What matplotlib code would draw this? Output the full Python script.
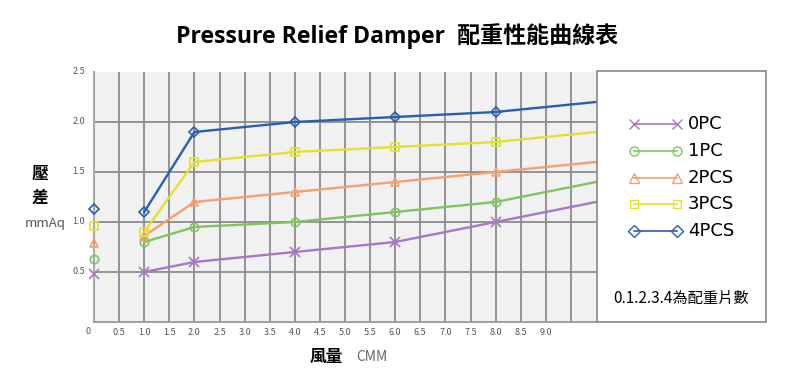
import matplotlib
matplotlib.use("Agg")
import matplotlib.pyplot as plt
from matplotlib.patches import Rectangle
from matplotlib.lines import Line2D

plt.rcParams['font.family'] = ['Noto Sans CJK TC', 'DejaVu Sans']

# Data
x_flow = [1.0, 2.0, 4.0, 6.0, 8.0, 10.0]
series_names = ["0PC", "1PC", "2PCS", "3PCS", "4PCS"]
p_0pc = [0.50, 0.60, 0.70, 0.80, 1.00, 1.20]
p_1pc = [0.80, 0.95, 1.00, 1.10, 1.20, 1.40]
p_2pcs = [0.86, 1.20, 1.30, 1.40, 1.50, 1.60]
p_3pcs = [0.90, 1.60, 1.70, 1.75, 1.80, 1.90]
p_4pcs = [1.10, 1.90, 2.00, 2.05, 2.10, 2.20]
zero_marks = [0.48, 0.63, 0.79, 0.96, 1.13]
x_ticks = [0.5, 1.0, 1.5, 2.0, 2.5, 3.0, 3.5, 4.0, 4.5, 5.0, 5.5, 6.0, 6.5, 7.0, 7.5, 8.0, 8.5, 9.0]
y_ticks = [0.5, 1.0, 1.5, 2.0, 2.5]

colors = ["#a878c0", "#80c460", "#f4a070", "#e4e030", "#2a5eb0"]
markers = ["x", "o", "^", "s", "D"]
msizes = [7, 6, 6, 5.5, 5.5]
all_series = [p_0pc, p_1pc, p_2pcs, p_3pcs, p_4pcs]

W, H = 794, 383
fig = plt.figure(figsize=(W / 100, H / 100), dpi=100)
L, R, T, B = 94, 596, 72, 322
ax = fig.add_axes([L / W, 1 - B / H, (R - L) / W, (B - T) / H])
ax.set_facecolor("#f0f1f0")
ax.set_xlim(0, 10)
ax.set_ylim(0, 2.5)

# grid
gx = [i * 0.5 for i in range(1, 20)]
for v in gx:
    ax.axvline(v, color="#8c8c8c", lw=1.3, zorder=1)
for v in [0.5, 1.0, 1.5, 2.0]:
    ax.axhline(v, color="#8c8c8c", lw=1.3, zorder=1)
for s in ["top", "right"]:
    ax.spines[s].set_visible(False)
ax.spines["left"].set_color("#aaaaaa")
ax.spines["left"].set_linewidth(1.5)
ax.spines["bottom"].set_color("#999999")
ax.spines["bottom"].set_linewidth(1.3)
ax.set_xticks([])
ax.set_yticks([])

for name, ys, c, m, ms, z in zip(series_names, all_series, colors, markers, msizes, zero_marks):
    ax.plot(x_flow, ys, color=c, lw=1.7, zorder=3, clip_on=False)
    ax.plot(x_flow[:-1], ys[:-1], ls="none", marker=m, ms=ms, mfc="none", mec=c, mew=1.2, zorder=4)
    ax.plot([0], [z], ls="none", marker=m, ms=ms, mfc="none", mec=c, mew=1.2, zorder=4, clip_on=False)

# tick labels
for v in x_ticks:
    ax.text(v, -0.06, f"{v:.1f}", ha="center", va="top", fontsize=6.5, color="#555555", clip_on=False)
ax.text(-0.12, -0.05, "0", ha="center", va="top", fontsize=6.5, color="#555555", clip_on=False)
for v in y_ticks:
    ax.text(-0.3, v, f"{v:.1f}", ha="center", va="center", fontsize=6.5, color="#555555", clip_on=False)

# axis labels
fig.text(40 / W, 1 - 174 / H, "壓", ha="center", va="center", fontsize=12, fontweight="bold")
fig.text(40 / W, 1 - 198 / H, "差", ha="center", va="center", fontsize=12, fontweight="bold")
fig.text(45 / W, 1 - 223 / H, "mmAq", ha="center", va="center", fontsize=9.5, color="#555555")
fig.text(326 / W, 1 - 357 / H, "風量", ha="center", va="center", fontsize=12, fontweight="bold")
fig.text(372 / W, 1 - 357 / H, "CMM", ha="center", va="center", fontsize=10, color="#666666")

# title
fig.text(397 / W, 1 - 36 / H, "Pressure Relief Damper  配重性能曲線表", ha="center", va="center",
         fontsize=16.6, fontweight="bold", family=["Open Sans", "Noto Sans CJK TC"])

# legend box
box = Rectangle((597 / W, 1 - B / H), (766 - 597) / W, (B - 71) / H, transform=fig.transFigure,
                facecolor="white", edgecolor="#888888", lw=1.2)
fig.patches.append(box)
row_y = [124, 151, 178, 204, 231]
for name, c, m, ms, ry in zip(series_names, colors, markers, msizes, row_y):
    fy = 1 - ry / H
    fig.add_artist(Line2D([634 / W, 677 / W], [fy, fy], transform=fig.transFigure, color=c, lw=1.2,
                          marker=m, ms=ms + 0.5, mfc="none", mec=c, mew=1.0))
    fig.text(688 / W, fy, name, ha="left", va="center", fontsize=13, family=["DejaVu Sans"])
fig.text(681 / W, 1 - 298 / H, "0.1.2.3.4為配重片數", ha="center", va="center", fontsize=11)

fig.savefig("out.png", dpi=100)
